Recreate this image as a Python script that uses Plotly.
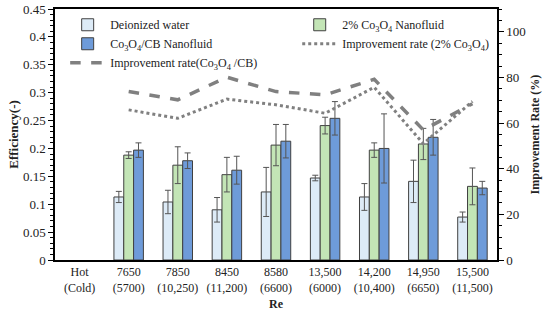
import plotly.graph_objects as go

categories = ["Hot<br>(Cold)", "7650<br>(5700)", "7850<br>(10,250)", "8450<br>(11,200)", "8580<br>(6600)",
              "13,500<br>(6000)", "14,200<br>(10,400)", "14,950<br>(6650)", "15,500<br>(11,500)"]

di_water = [None, 0.113, 0.104, 0.090, 0.122, 0.147, 0.113, 0.141, 0.077]
di_err = [None, 0.010, 0.021, 0.022, 0.044, 0.005, 0.024, 0.038, 0.009]

co3o4 = [None, 0.188, 0.170, 0.153, 0.206, 0.241, 0.197, 0.208, 0.132]
co3o4_err = [None, 0.006, 0.033, 0.031, 0.037, 0.015, 0.013, 0.028, 0.033]

cb = [None, 0.197, 0.178, 0.161, 0.213, 0.254, 0.200, 0.220, 0.129]
cb_err = [None, 0.013, 0.014, 0.025, 0.030, 0.030, 0.062, 0.032, 0.012]

impr_co3o4 = [None, 65.8, 62.1, 70.5, 68.0, 64.3, 75.7, 51.0, 69.5]
impr_cb = [None, 73.8, 70.2, 80.1, 73.8, 72.4, 79.2, 57.0, 68.5]

FONT = "Liberation Serif"
sub = lambda s: s.replace("Co3O4", "Co<sub>3</sub>O<sub>4</sub>")

fig = go.Figure()

def add_bar(name, y, err, color, legend):
    fig.add_trace(go.Bar(
        x=categories, y=y, name=sub(name),
        marker=dict(color=color, line=dict(color="#404040", width=1)),
        error_y=dict(type="data", array=err, color="#555555", thickness=1, width=3),
        yaxis="y", legend=legend,
    ))

add_bar("Deionized water", di_water, di_err, "#DDEBF7", "legend")
add_bar("2% Co3O4 Nanofluid", co3o4, co3o4_err, "#C3E5B6", "legend2")
add_bar("Co3O4/CB Nanofluid", cb, cb_err, "#6E9BD9", "legend")

fig.add_trace(go.Scatter(
    x=categories, y=impr_co3o4, name=sub("Improvement rate (2% Co3O4)"),
    mode="lines", line=dict(color="#808080", width=3, dash="dot"), yaxis="y2",
    legend="legend2",
))
fig.add_trace(go.Scatter(
    x=categories, y=impr_cb, name=sub("Improvement rate(Co3O4 /CB)"),
    mode="lines", line=dict(color="#808080", width=3.5, dash="dash"), yaxis="y2",
    legend="legend",
))

legend_common = dict(
    orientation="v", yanchor="top", xanchor="left",
    bgcolor="rgba(0,0,0,0)", font=dict(family=FONT, size=12),
    itemwidth=35, tracegroupgap=0, traceorder="normal",
)

fig.update_layout(
    width=550, height=326,
    margin=dict(l=55, r=53, t=9, b=66, autoexpand=False),
    paper_bgcolor="white", plot_bgcolor="white",
    font=dict(family=FONT, size=12, color="#222222"),
    barmode="group", bargap=0.4, bargroupgap=0,
    showlegend=True,
    legend=dict(x=0.023, y=0.995, **legend_common),
    legend2=dict(x=0.548, y=0.995, **legend_common),
    xaxis=dict(
        type="category", showline=True, linecolor="black", linewidth=1.5, mirror=True,
        ticks="", showgrid=False, automargin=False,
        title=dict(text="<b>Re</b>", standoff=6, font=dict(size=12)),
        tickfont=dict(size=12),
    ),
    yaxis=dict(
        range=[0, 0.45], dtick=0.05, showline=True, linecolor="black", linewidth=1.5,
        ticks="outside", ticklen=5, tickcolor="black", showgrid=False, zeroline=False,
        automargin=False,
        minor=dict(dtick=0.01, ticks="outside", ticklen=3, tickcolor="black"),
        title=dict(text="<b>Efficiency(-)</b>", standoff=1, font=dict(size=13)),
        tickfont=dict(size=13),
    ),
    yaxis2=dict(
        range=[0, 110], dtick=20, overlaying="y", side="right", showline=True,
        linecolor="black", linewidth=1.5, ticks="outside", ticklen=5, tickcolor="black",
        showgrid=False, zeroline=False, automargin=False,
        minor=dict(dtick=5, ticks="outside", ticklen=3, tickcolor="black"),
        title=dict(text="<b>Improvement Rate (%)</b>", standoff=6, font=dict(size=12)),
        tickfont=dict(size=13),
    ),
)

fig.write_html("out.html", config={"displayModeBar": False},
               post_script="document.body.style.margin='0';document.body.style.padding='0';")
